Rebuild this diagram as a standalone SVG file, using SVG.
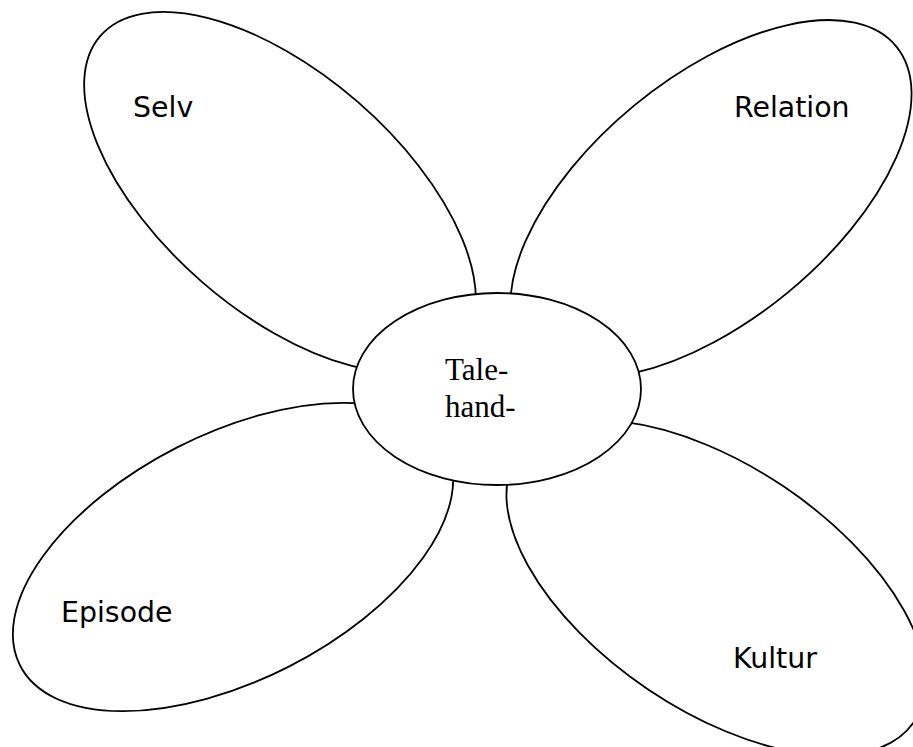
<svg xmlns="http://www.w3.org/2000/svg" width="913" height="747" viewBox="0 0 913 747">
  <style>
    .petal { fill: #ffffff; stroke: #000000; stroke-width: 1.8; }
    .core { fill: #ffffff; stroke: #000000; stroke-width: 1.8; }
    .lbl { font-family: "DejaVu Sans", Verdana, sans-serif; font-size: 28.4px; fill: #000000; }
    .core-lbl { font-family: "Liberation Serif", "Times New Roman", serif; font-size: 31px; fill: #000000; }
  </style>
  <rect x="0" y="0" width="913" height="747" fill="#ffffff"/>

  <!-- petals, drawn first so the centre covers their inner ends -->
  <g id="selv">
    <ellipse class="petal" cx="280" cy="192" rx="238" ry="119" transform="rotate(41 280 192)"/>
    <text class="lbl" x="133" y="117">Selv</text>
  </g>
  <g id="relation">
    <ellipse class="petal" cx="711" cy="199" rx="240" ry="121" transform="rotate(-39.5 711 199)"/>
    <text class="lbl" x="734" y="117">Relation</text>
  </g>
  <g id="episode">
    <ellipse class="petal" cx="233" cy="557" rx="239" ry="123" transform="rotate(-27 233 557)"/>
    <text class="lbl" x="61" y="622">Episode</text>
  </g>
  <g id="kultur">
    <ellipse class="petal" cx="716" cy="588" rx="239" ry="122" transform="rotate(34 716 588)"/>
    <text class="lbl" x="733" y="668">Kultur</text>
  </g>

  <!-- centre -->
  <g id="talehand">
    <ellipse class="core" cx="497" cy="389" rx="144" ry="96"/>
    <text class="core-lbl" x="445" y="380">Tale-</text>
    <text class="core-lbl" x="445" y="417">hand-</text>
  </g>

  <g id="connectors"></g>
</svg>
